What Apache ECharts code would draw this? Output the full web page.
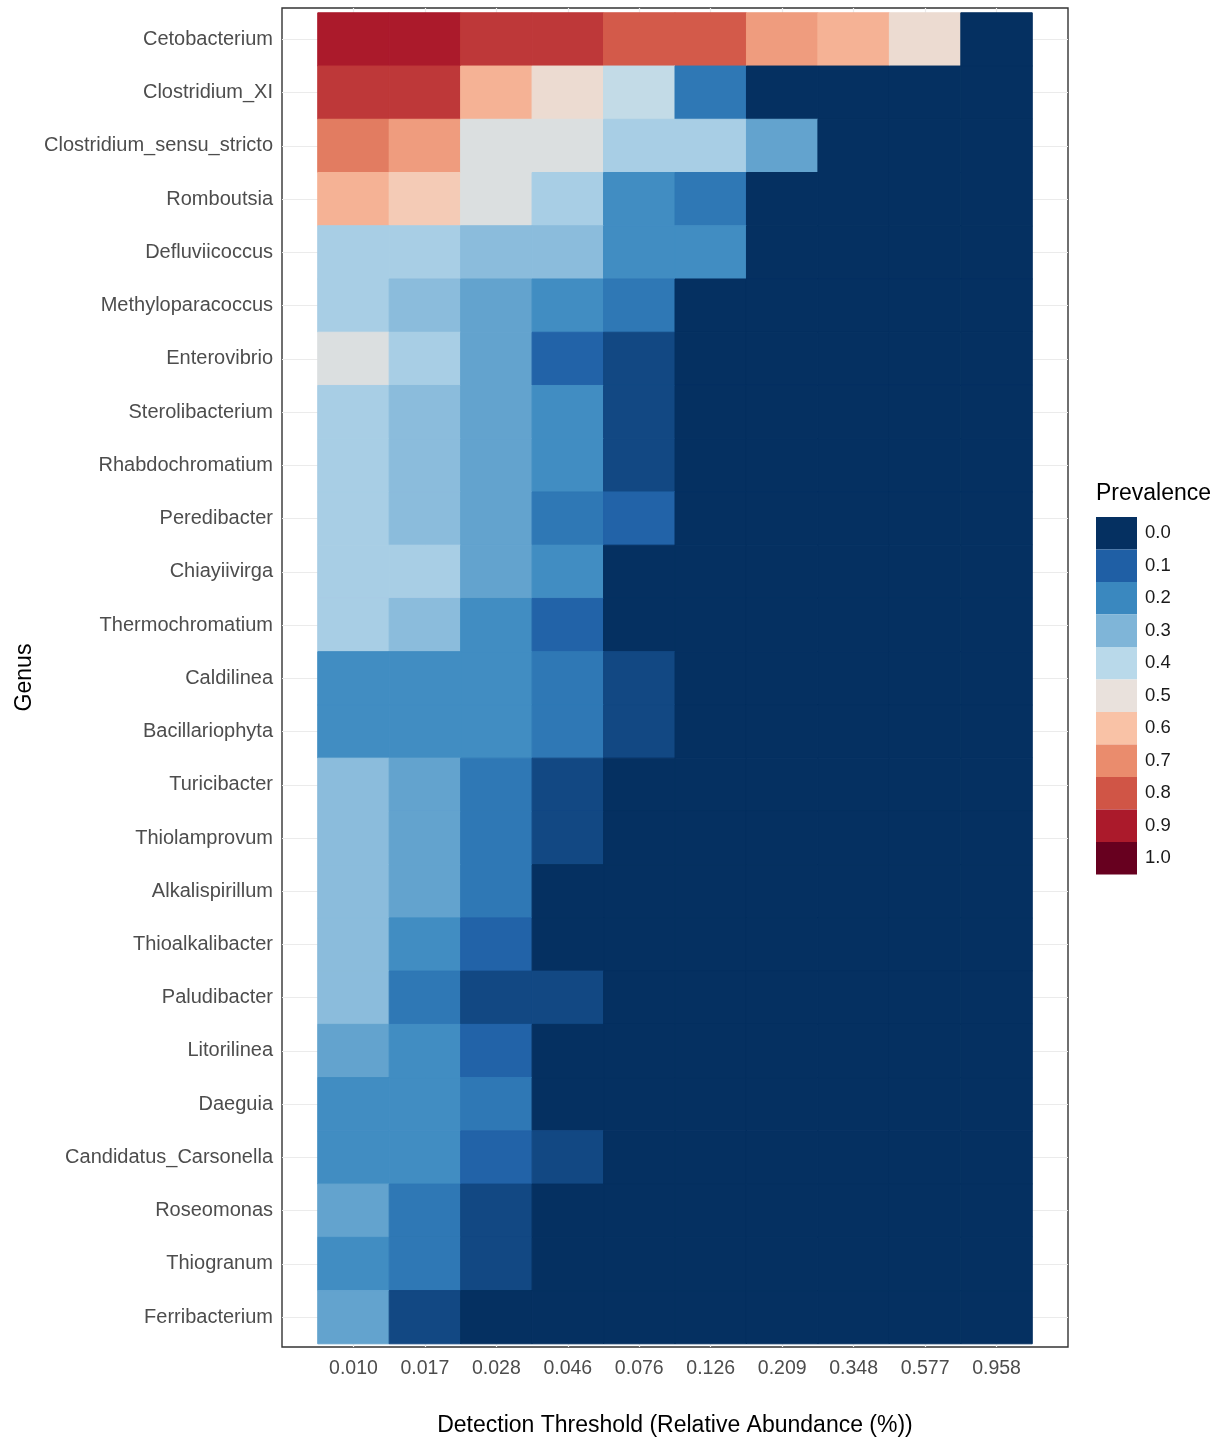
<!DOCTYPE html>
<html>
<head>
<meta charset="utf-8">
<script src="https://cdn.jsdelivr.net/npm/echarts@6/dist/echarts.min.js"></script>
<style>
  html, body { margin: 0; padding: 0; background: #ffffff; }
  #chart { width: 1222px; height: 1443px; }
</style>
</head>
<body>
<div id="chart"></div>
<script>
// ---- data ----
const thresholds = ['0.010', '0.017', '0.028', '0.046', '0.076', '0.126', '0.209', '0.348', '0.577', '0.958'];

const genera = [
  'Cetobacterium', 'Clostridium_XI', 'Clostridium_sensu_stricto', 'Romboutsia',
  'Defluviicoccus', 'Methyloparacoccus', 'Enterovibrio', 'Sterolibacterium',
  'Rhabdochromatium', 'Peredibacter', 'Chiayiivirga', 'Thermochromatium',
  'Caldilinea', 'Bacillariophyta', 'Turicibacter', 'Thiolamprovum',
  'Alkalispirillum', 'Thioalkalibacter', 'Paludibacter', 'Litorilinea',
  'Daeguia', 'Candidatus_Carsonella', 'Roseomonas', 'Thiogranum', 'Ferribacterium'
];

// prevalence per genus (rows, same order as genera) across thresholds (columns)
const prevalence = [
  [0.90, 0.90, 0.85, 0.85, 0.79, 0.79, 0.67, 0.63, 0.52, 0.00],
  [0.85, 0.85, 0.63, 0.52, 0.42, 0.16, 0.00, 0.00, 0.00, 0.00],
  [0.73, 0.67, 0.47, 0.47, 0.37, 0.37, 0.26, 0.00, 0.00, 0.00],
  [0.63, 0.57, 0.47, 0.37, 0.21, 0.16, 0.00, 0.00, 0.00, 0.00],
  [0.37, 0.37, 0.32, 0.32, 0.21, 0.21, 0.00, 0.00, 0.00, 0.00],
  [0.37, 0.32, 0.26, 0.21, 0.16, 0.00, 0.00, 0.00, 0.00, 0.00],
  [0.47, 0.37, 0.26, 0.11, 0.05, 0.00, 0.00, 0.00, 0.00, 0.00],
  [0.37, 0.32, 0.26, 0.21, 0.05, 0.00, 0.00, 0.00, 0.00, 0.00],
  [0.37, 0.32, 0.26, 0.21, 0.05, 0.00, 0.00, 0.00, 0.00, 0.00],
  [0.37, 0.32, 0.26, 0.16, 0.11, 0.00, 0.00, 0.00, 0.00, 0.00],
  [0.37, 0.37, 0.26, 0.21, 0.00, 0.00, 0.00, 0.00, 0.00, 0.00],
  [0.37, 0.32, 0.21, 0.11, 0.00, 0.00, 0.00, 0.00, 0.00, 0.00],
  [0.21, 0.21, 0.21, 0.16, 0.05, 0.00, 0.00, 0.00, 0.00, 0.00],
  [0.21, 0.21, 0.21, 0.16, 0.05, 0.00, 0.00, 0.00, 0.00, 0.00],
  [0.32, 0.26, 0.16, 0.05, 0.00, 0.00, 0.00, 0.00, 0.00, 0.00],
  [0.32, 0.26, 0.16, 0.05, 0.00, 0.00, 0.00, 0.00, 0.00, 0.00],
  [0.32, 0.26, 0.16, 0.00, 0.00, 0.00, 0.00, 0.00, 0.00, 0.00],
  [0.32, 0.21, 0.11, 0.00, 0.00, 0.00, 0.00, 0.00, 0.00, 0.00],
  [0.32, 0.16, 0.05, 0.05, 0.00, 0.00, 0.00, 0.00, 0.00, 0.00],
  [0.26, 0.21, 0.11, 0.00, 0.00, 0.00, 0.00, 0.00, 0.00, 0.00],
  [0.21, 0.21, 0.16, 0.00, 0.00, 0.00, 0.00, 0.00, 0.00, 0.00],
  [0.21, 0.21, 0.11, 0.05, 0.00, 0.00, 0.00, 0.00, 0.00, 0.00],
  [0.26, 0.16, 0.05, 0.00, 0.00, 0.00, 0.00, 0.00, 0.00, 0.00],
  [0.21, 0.16, 0.05, 0.00, 0.00, 0.00, 0.00, 0.00, 0.00, 0.00],
  [0.26, 0.05, 0.00, 0.00, 0.00, 0.00, 0.00, 0.00, 0.00, 0.00]
];

// legend breaks
const legendBreaks = [0.0, 0.1, 0.2, 0.3, 0.4, 0.5, 0.6, 0.7, 0.8, 0.9, 1.0];
const legendLabels = ['0.0', '0.1', '0.2', '0.3', '0.4', '0.5', '0.6', '0.7', '0.8', '0.9', '1.0'];

// ---- styling ----
const paletteStops = ['#053061', '#1f5fa5', '#3a88bf', '#7fb5d8', '#b9d9ea', '#e9e1dc',
                      '#f9c2a6', '#ea8c6d', '#d05546', '#ab1a2b', '#67001f'];
const FONT = "'Liberation Sans', Arial, sans-serif";

const cells = [];
prevalence.forEach((row, yi) => {
  row.forEach((v, xi) => cells.push([xi, yi, v]));
});

const xIdx = thresholds.map((_, i) => i);
const yIdx = genera.map((_, i) => i);

const chart = echarts.init(document.getElementById('chart'), null, { renderer: 'canvas' });

chart.setOption({
  backgroundColor: '#ffffff',
  animation: false,
  title: {
    text: 'Prevalence',
    left: 1096,
    top: 482,
    padding: 0,
    textStyle: { fontFamily: FONT, fontSize: 23, fontWeight: 'normal', color: '#000000' }
  },
  grid: {
    left: 282, top: 8, width: 786, height: 1339,
    show: true, backgroundColor: '#ffffff', borderColor: '#333333', borderWidth: 1.4,
    containLabel: false,
    outerBoundsMode: 'none'
  },
  xAxis: {
    type: 'value',
    min: -1, max: 10,
    name: 'Detection Threshold (Relative Abundance (%))',
    nameLocation: 'middle',
    nameGap: 67,
    nameMoveOverlap: false,
    nameTextStyle: { fontFamily: FONT, fontSize: 23, color: '#000000' },
    axisLine: { show: false },
    axisTick: { show: true, customValues: xIdx, length: 5, lineStyle: { color: '#333333', width: 1.3 } },
    axisLabel: {
      customValues: xIdx,
      margin: 12,
      fontFamily: FONT, fontSize: 19.5, color: '#4d4d4d',
      formatter: (v) => thresholds[Math.round(v)] || ''
    },
    splitLine: { show: true, lineStyle: { color: '#ebebeb', width: 1.2 } }
  },
  yAxis: {
    type: 'value',
    inverse: true,
    min: -0.59, max: 24.56,
    name: 'Genus',
    nameLocation: 'middle',
    nameGap: 246,
    nameMoveOverlap: false,
    nameTextStyle: { fontFamily: FONT, fontSize: 23, color: '#000000' },
    axisLine: { show: false },
    axisTick: { show: true, customValues: yIdx, length: 5, lineStyle: { color: '#333333', width: 1.3 } },
    axisLabel: {
      customValues: yIdx,
      margin: 9,
      padding: [3, 0, 0, 0],
      fontFamily: FONT, fontSize: 20, color: '#4d4d4d',
      formatter: (v) => genera[Math.round(v)] || ''
    },
    splitLine: { show: true, lineStyle: { color: '#ebebeb', width: 1.2 } }
  },
  visualMap: [
    {
      type: 'continuous',
      show: false,
      seriesIndex: 0,
      dimension: 2,
      min: 0, max: 1,
      inRange: { color: paletteStops }
    },
    {
      type: 'piecewise',
      seriesIndex: 1,
      orient: 'vertical',
      inverse: true,
      align: 'left',
      left: 1096,
      top: 517,
      padding: 0,
      itemWidth: 41,
      itemHeight: 32.5,
      itemGap: 0,
      itemSymbol: 'rect',
      showLabel: true,
      textGap: 8,
      selectedMode: false,
      hoverLink: false,
      textStyle: { fontFamily: FONT, fontSize: 18.5, color: '#1a1a1a', padding: [4, 0, 0, 0] },
      pieces: legendBreaks.map((v, i) => ({ value: v, label: legendLabels[i], color: paletteStops[i] }))
    }
  ],
  series: [
    {
      type: 'custom',
      coordinateSystem: 'cartesian2d',
      data: cells,
      encode: { x: 0, y: 1 },
      renderItem: function (params, api) {
        const x = api.value(0), y = api.value(1);
        const p1 = api.coord([x - 0.5, y - 0.5]);
        const p2 = api.coord([x + 0.5, y + 0.5]);
        return {
          type: 'rect',
          shape: {
            x: Math.min(p1[0], p2[0]),
            y: Math.min(p1[1], p2[1]),
            width: Math.abs(p2[0] - p1[0]),
            height: Math.abs(p2[1] - p1[1])
          },
          style: { fill: api.visual('color'), stroke: api.visual('color'), lineWidth: 1 }
        };
      }
    },
    {
      type: 'scatter',
      data: [],
      silent: true
    }
  ]
});
</script>
</body>
</html>
